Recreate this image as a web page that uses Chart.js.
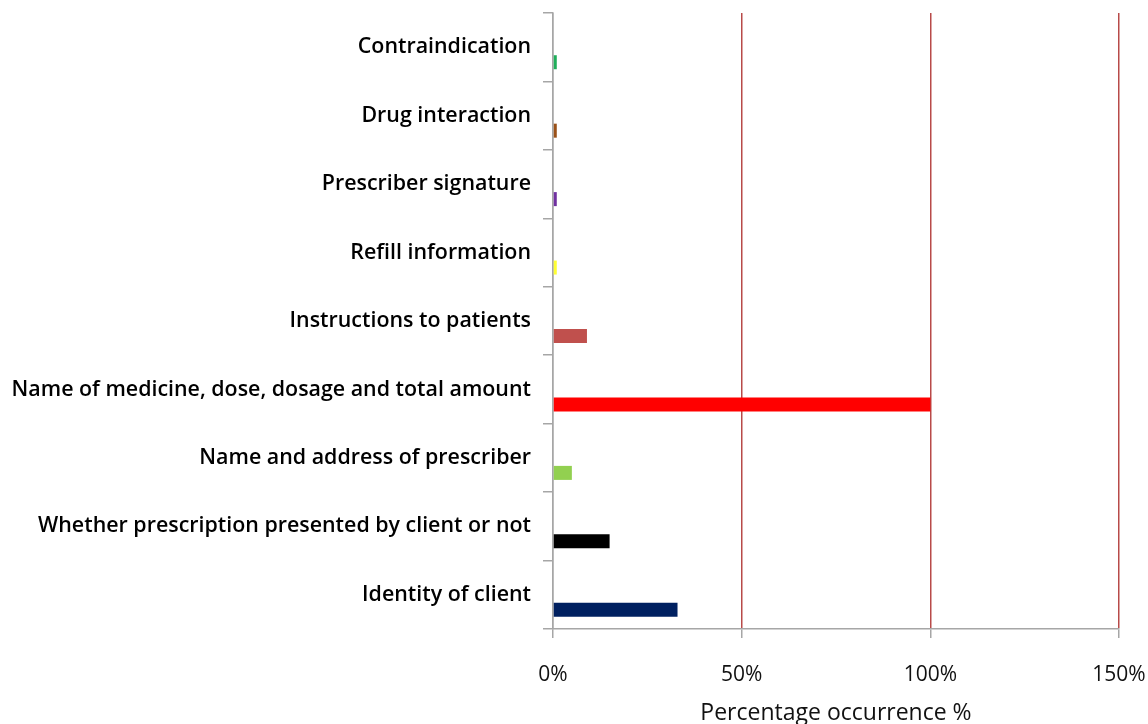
<!DOCTYPE html>
<html>
<head>
<meta charset="utf-8">
<script src="https://cdn.jsdelivr.net/npm/chart.js@4/dist/chart.umd.min.js"></script>
<style>
  html, body { margin: 0; padding: 0; background: #fff; }
  #wrap { width: 1148px; height: 724px; position: relative; }
</style>
</head>
<body>
<div id="wrap"><canvas id="c" width="1148" height="724"></canvas></div>
<script>
// Prescription components checked, top to bottom
const categories = [
  'Contraindication',
  'Drug interaction',
  'Prescriber signature',
  'Refill information',
  'Instructions to patients',
  'Name of medicine, dose, dosage and total amount',
  'Name and address of prescriber',
  'Whether prescription presented by client or not',
  'Identity of client'
];
// Percentage occurrence for each component
const occurrence = [1, 1, 1, 1, 9, 100, 5, 15, 33];
const barColors = ['#1fae5a', '#9a5118', '#7030a0', '#ffff33', '#c0504d', '#ff0000', '#92d050', '#000000', '#002060'];
// Empty companion series: keeps each bar in the lower half of its row
const spacer = categories.map(() => null);
const xTicks = [0, 50, 100, 150];

const FONT = '"Open Sans", Lato, sans-serif';

new Chart(document.getElementById('c'), {
  type: 'bar',
  data: {
    labels: categories,
    datasets: [
      { data: spacer, backgroundColor: 'rgba(0,0,0,0)' },
      { data: occurrence, backgroundColor: barColors, borderWidth: 0 }
    ]
  },
  options: {
    indexAxis: 'y',
    responsive: false,
    animation: false,
    categoryPercentage: 0.877,
    barPercentage: 0.467,
    layout: { padding: { top: 13, right: 29, left: 0, bottom: 0 } },
    plugins: { legend: { display: false }, tooltip: { enabled: false } },
    scales: {
      x: {
        min: 0, max: 150,
        afterBuildTicks: (s) => { s.ticks = xTicks.map(v => ({ value: v })); },
        afterFit: (s) => { s.height = 95; s.paddingLeft = 0; s.paddingRight = 0; },
        grid: {
          color: (ctx) => (ctx.tick && ctx.tick.value === 0) ? '#a6a6a6' : '#b84a49',
          tickColor: '#a6a6a6',
          tickLength: 9,
          lineWidth: 1.5
        },
        border: { color: '#a6a6a6', width: 1.5 },
        ticks: {
          callback: (v) => v + '%',
          color: '#111',
          font: { family: FONT, size: 21 },
          padding: 24,
          maxRotation: 0
        },
        title: {
          display: true,
          text: 'Percentage occurrence %',
          color: '#111',
          font: { family: FONT, size: 23 },
          padding: { top: 8, bottom: -3 }
        }
      },
      y: {
        afterFit: (s) => { s.width = 553; s.paddingTop = 0; s.paddingBottom = 0; },
        grid: {
          offset: true,
          drawOnChartArea: false,
          color: '#a6a6a6',
          tickLength: 10,
          lineWidth: 1.5
        },
        border: { color: '#a6a6a6', width: 1.5 },
        ticks: {
          color: '#000',
          font: { family: FONT, size: 21.4, weight: 600 },
          padding: 12
        }
      }
    }
  }
});
</script>
</body>
</html>
